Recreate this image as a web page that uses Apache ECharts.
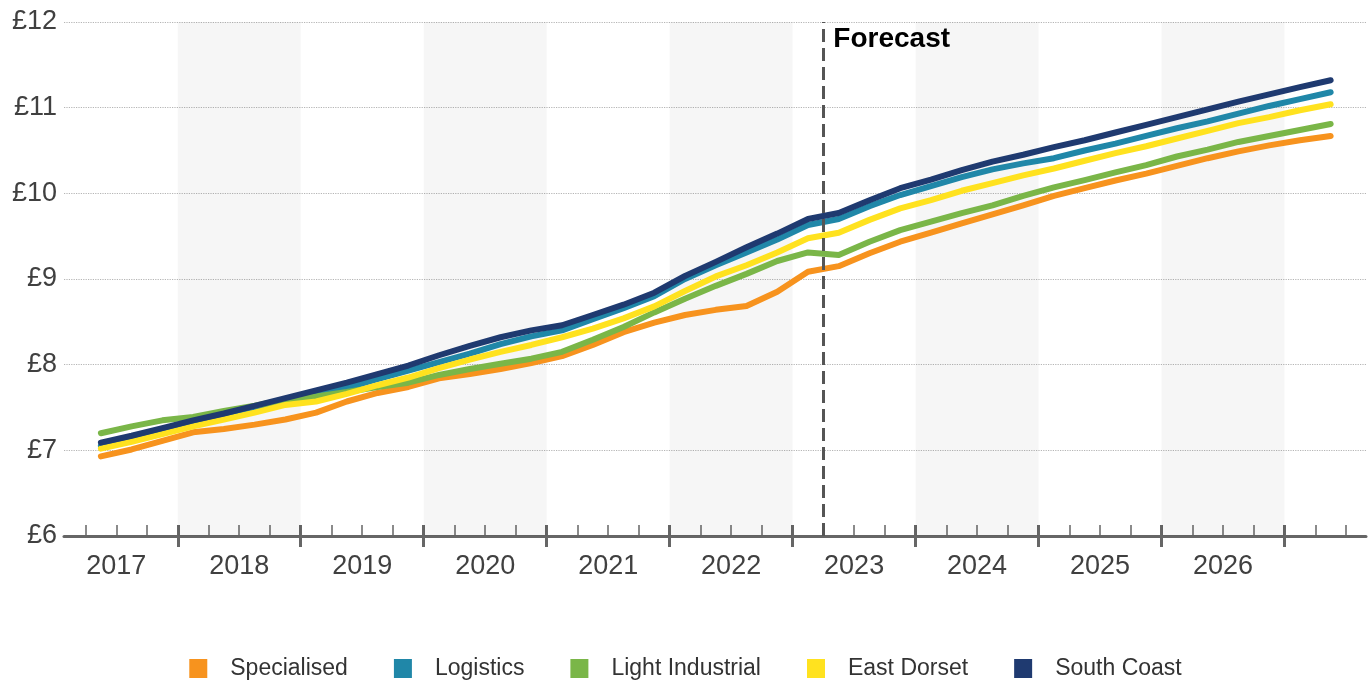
<!DOCTYPE html>
<html>
<head>
<meta charset="utf-8">
<script src="https://cdn.jsdelivr.net/npm/echarts@6/dist/echarts.min.js"></script>
<style>
html,body{margin:0;padding:0;background:#fff;}
#chart{width:1371px;height:684px;}
</style>
</head>
<body>
<div id="chart"></div>
<script>
// Year tick labels
const years = ['2017','2018','2019','2020','2021','2022','2023','2024','2025','2026'];
// Quarterly series, 2017 Q2 .. 2027 Q2 (41 quarters)
const seriesNames = ['Specialised','Logistics','Light Industrial','East Dorset','South Coast'];
const specialised = [6.93,7.01,7.11,7.21,7.25,7.30,7.36,7.44,7.57,7.67,7.74,
  7.84,7.89,7.95,8.02,8.10,8.23,8.38,8.49,8.58,8.64,
  8.685,8.85,9.085,9.15,9.30,9.435,9.54,9.65,9.755,9.86,
  9.97,10.06,10.15,10.23,10.32,10.41,10.49,10.56,10.62,10.67];
const logistics = [7.05,7.13,7.22,7.31,7.40,7.48,7.56,7.64,7.73,7.83,7.93,
  8.03,8.13,8.24,8.33,8.40,8.53,8.66,8.80,9.00,9.16,
  9.31,9.46,9.63,9.70,9.85,9.98,10.085,10.19,10.28,10.35,
  10.41,10.50,10.58,10.67,10.76,10.84,10.93,11.02,11.10,11.18];
const lightIndustrial = [7.20,7.28,7.35,7.39,7.46,7.52,7.59,7.63,7.68,7.74,7.79,
  7.88,7.95,8.01,8.07,8.15,8.29,8.44,8.61,8.77,8.92,
  9.06,9.21,9.31,9.28,9.435,9.57,9.67,9.77,9.86,9.97,
  10.07,10.155,10.245,10.33,10.43,10.51,10.60,10.67,10.74,10.81];
const eastDorset = [7.02,7.10,7.19,7.28,7.36,7.44,7.53,7.57,7.66,7.76,7.85,
  7.96,8.06,8.15,8.23,8.32,8.42,8.54,8.68,8.86,9.03,
  9.16,9.31,9.475,9.54,9.69,9.825,9.92,10.03,10.12,10.21,
  10.29,10.38,10.47,10.55,10.64,10.73,10.82,10.89,10.97,11.04];
const southCoast = [7.09,7.17,7.26,7.35,7.43,7.52,7.61,7.70,7.79,7.89,7.99,
  8.11,8.22,8.32,8.40,8.46,8.58,8.70,8.84,9.035,9.20,
  9.37,9.53,9.70,9.77,9.92,10.06,10.16,10.27,10.37,10.45,
  10.54,10.62,10.71,10.80,10.89,10.98,11.07,11.155,11.24,11.32];
const colors = ['#F7931E','#2087A8','#7AB648','#FFE21F','#1F3A70'];

// x axis in quarter units: 0 = start of 2017; data at quarter centres
const FIRST_Q = 1.5;          // 2017 Q2 centre
const FORECAST_AT = 25;       // boundary between 2023 Q1 and Q2
const X_MIN = 0.3, X_MAX = 42.65;
const minorTicks = [], majorTicks = [], labelPos = [];
for (let q = 1; q <= 42; q++) { if (q % 4 === 0) majorTicks.push(q); else minorTicks.push(q); }
years.forEach((y, i) => labelPos.push(2 + 4 * i));
const bands = [];
for (let i = 1; i < years.length; i += 2) bands.push([{xAxis: 4 * i}, {xAxis: 4 * i + 4}]);

const allData = [specialised, logistics, lightIndustrial, eastDorset, southCoast];
const font = "'Liberation Sans', Arial, sans-serif";

const series = allData.map((arr, si) => {
  const s = {
    name: seriesNames[si],
    type: 'line',
    showSymbol: false,
    symbol: 'none',
    data: arr.map((v, i) => [FIRST_Q + i, v]),
    lineStyle: {width: 6, color: colors[si], cap: 'round', join: 'round'},
    itemStyle: {color: colors[si]},
    silent: true
  };
  if (si === 0) {
    s.markArea = {
      silent: true,
      itemStyle: {color: 'rgba(0,0,0,0.035)'},
      data: bands
    };
    s.markLine = {
      silent: true,
      symbol: 'none',
      label: {show: false},
      lineStyle: {color: '#555', width: 3, type: [13, 6]},
      data: [{xAxis: FORECAST_AT}]
    };
    s.markPoint = {
      silent: true,
      symbol: 'circle',
      symbolSize: 0,
      data: [{coord: [FORECAST_AT, 12]}],
      label: {
        show: true, position: 'right', distance: 10, offset: [0, 17],
        formatter: 'Forecast', fontFamily: font, fontWeight: 'bold', fontSize: 28, color: '#000'
      }
    };
  }
  return s;
});

const chart = echarts.init(document.getElementById('chart'));
chart.setOption({
  animation: false,
  backgroundColor: '#fff',
  color: colors,
  grid: {left: 64, right: 5, top: 22, bottom: 148, containLabel: false},
  legend: {
    top: 652, left: 'center',
    icon: 'rect', itemWidth: 18, itemHeight: 19, itemGap: 46,
    selectedMode: false,
    textStyle: {fontFamily: font, fontSize: 23, color: '#333', padding: [0, 0, 0, 18]},
    data: seriesNames
  },
  xAxis: [
    {
      type: 'value', min: X_MIN, max: X_MAX,
      axisLine: {show: true, lineStyle: {color: '#666', width: 3}},
      axisTick: {show: true, inside: true, length: 11, customValues: minorTicks, lineStyle: {color: '#666', width: 1.5}},
      axisLabel: {show: false},
      splitLine: {show: false}
    },
    {
      type: 'value', min: X_MIN, max: X_MAX, offset: 11, position: 'bottom',
      axisLine: {show: false},
      axisTick: {show: true, inside: true, length: 22, customValues: majorTicks, lineStyle: {color: '#666', width: 3}},
      axisLabel: {
        show: true, customValues: labelPos, margin: 6,
        fontFamily: font, fontSize: 27, color: '#404040',
        formatter: v => years[Math.round((v - 2) / 4)]
      },
      splitLine: {show: false}
    }
  ],
  yAxis: {
    type: 'value', min: 6, max: 12, interval: 1,
    axisLine: {show: false}, axisTick: {show: false},
    axisLabel: {fontFamily: font, fontSize: 27, color: '#404040', margin: 7, formatter: v => '£' + v},
    splitLine: {show: true, lineStyle: {color: '#b5b5b5', width: 1.2, type: 'dotted'}}
  },
  series: series
});
</script>
</body>
</html>
